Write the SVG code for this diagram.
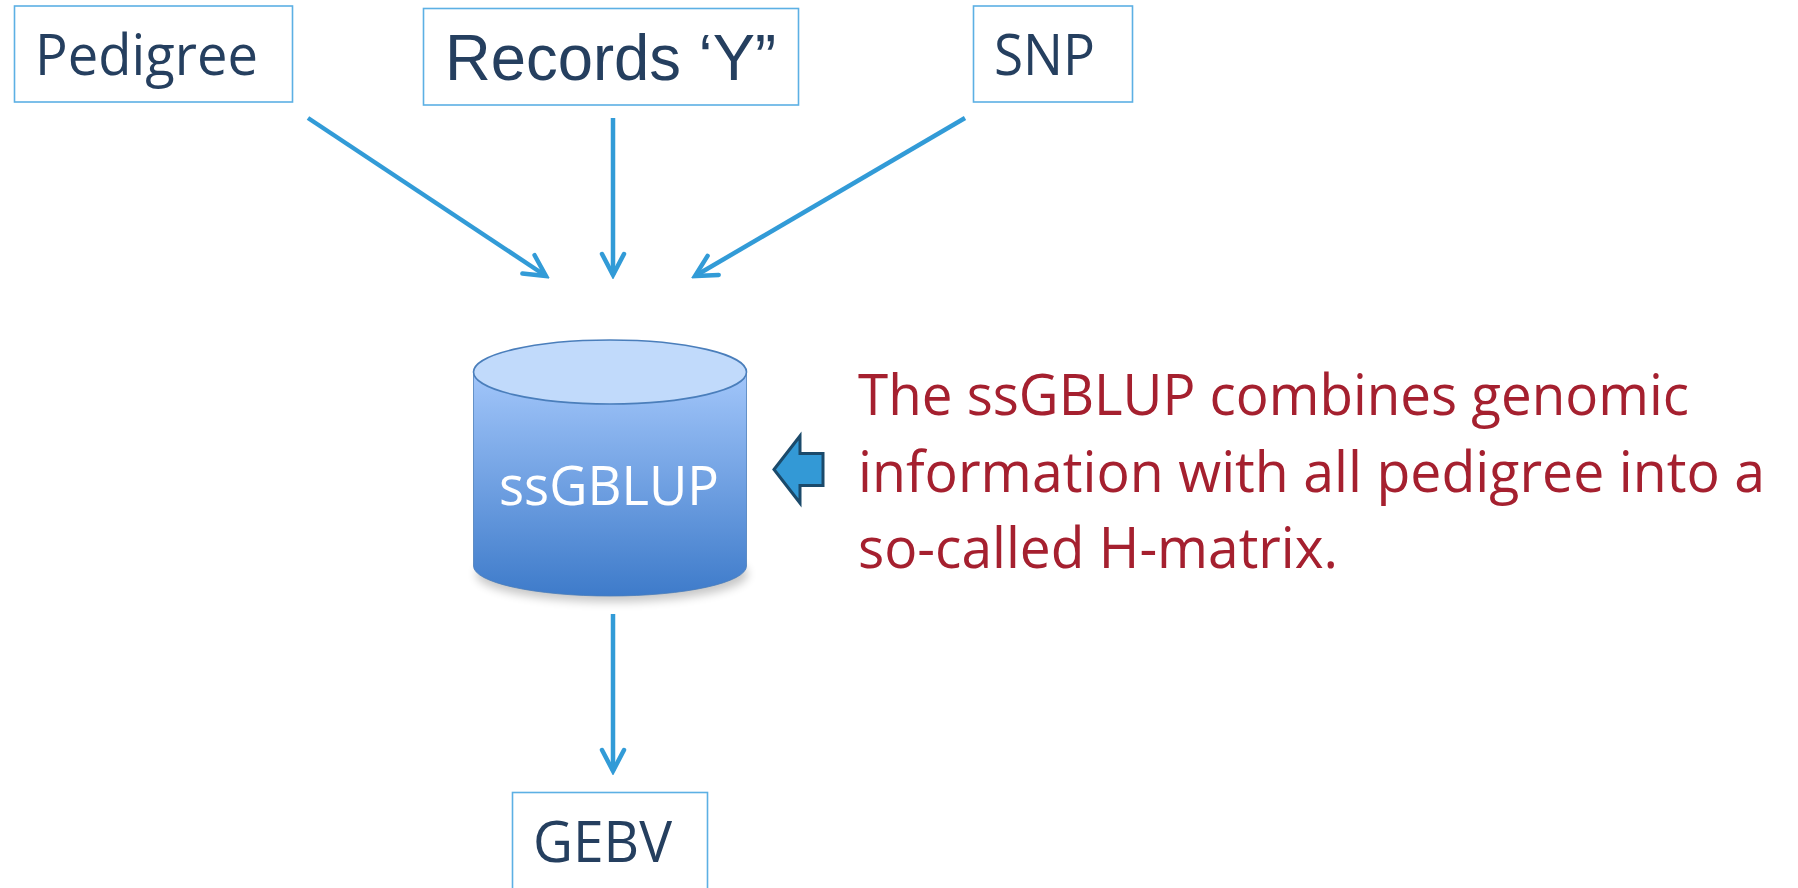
<svg xmlns="http://www.w3.org/2000/svg" width="1798" height="888" viewBox="0 0 1798 888">
<style>
.box{fill:#ffffff;stroke:#5cb0e4;stroke-width:1.6}
.lbl{font-family:"Open Sans","Noto Sans",sans-serif;font-size:56px;fill:#253f5f}
.conn{stroke:#329bd7;stroke-width:4.5;fill:none;stroke-linecap:butt}
.note{font-family:"Open Sans","Noto Sans",sans-serif;font-size:56px;fill:#a5202f}
</style>
<defs>
<marker id="ah" markerUnits="userSpaceOnUse" viewBox="-26 -14 30 28" refX="0" refY="0" markerWidth="30" markerHeight="28" orient="auto">
<path d="M -21 -11 L 0 0 L -21 11" fill="none" stroke="#329bd7" stroke-width="4.5" stroke-linecap="round" stroke-linejoin="miter"/>
</marker>
<linearGradient id="body" x1="0" y1="0" x2="0" y2="1">
<stop offset="0" stop-color="#a2c6fa"/>
<stop offset="1" stop-color="#3e7bca"/>
</linearGradient>
<filter id="sh" x="-20%" y="-50%" width="140%" height="200%">
<feGaussianBlur stdDeviation="5"/>
</filter>
</defs>
<rect width="1798" height="888" fill="#ffffff"/>
<g id="connectors">
<line class="conn" x1="308" y1="118" x2="546" y2="276" marker-end="url(#ah)"/>
<line class="conn" x1="613" y1="118" x2="613" y2="275" marker-end="url(#ah)"/>
<line class="conn" x1="965" y1="118" x2="695" y2="276" marker-end="url(#ah)"/>
<line class="conn" x1="613" y1="614" x2="613" y2="771" marker-end="url(#ah)"/>
</g>
<g id="node-pedigree">
<rect class="box" x="14.5" y="6" width="278" height="96"/>
<text class="lbl" x="35" y="75" textLength="223" lengthAdjust="spacingAndGlyphs">Pedigree</text>
</g>
<g id="node-records">
<rect class="box" x="423.5" y="8.5" width="375" height="96.5"/>
<text x="445" y="80" font-family="Liberation Sans, Arial, sans-serif" font-size="64" fill="#253f5f" textLength="331" lengthAdjust="spacingAndGlyphs">Records ‘Y”</text>
</g>
<g id="node-snp">
<rect class="box" x="973.5" y="6" width="159" height="96"/>
<text class="lbl" x="994" y="75" textLength="101" lengthAdjust="spacingAndGlyphs">SNP</text>
</g>
<g id="node-ssgblup">
<ellipse cx="612" cy="574" rx="136" ry="28" fill="#000000" opacity="0.22" filter="url(#sh)"/>
<path d="M 473.5 372 V 566 A 136.5 30 0 0 0 746.5 566 V 372 Z" fill="url(#body)" stroke="#4a7ebb" stroke-width="0.8"/>
<ellipse cx="610" cy="372" rx="136.5" ry="32" fill="#c1daFB" stroke="#4a7ebb" stroke-width="1.6"/>
<text x="499" y="505" font-family="Open Sans, Noto Sans, sans-serif" font-size="55" fill="#ffffff" textLength="220" lengthAdjust="spacingAndGlyphs">ssGBLUP</text>
</g>
<g id="node-gebv">
<rect class="box" x="512.5" y="792.5" width="195" height="110"/>
<text class="lbl" x="533" y="861.5" textLength="139" lengthAdjust="spacingAndGlyphs">GEBV</text>
</g>
<g id="node-callout">
<polygon points="774,469.5 800,436 800,453.5 823,453.5 823,485.5 800,485.5 800,503" fill="#3399d6" stroke="#1b4a6b" stroke-width="3" stroke-linejoin="miter"/>
</g>
<g id="node-note">
<text class="note" x="858" y="415" textLength="831" lengthAdjust="spacingAndGlyphs">The ssGBLUP combines genomic</text>
<text class="note" x="858" y="491.5" textLength="907" lengthAdjust="spacingAndGlyphs">information with all pedigree into a</text>
<text class="note" x="858" y="568" textLength="480" lengthAdjust="spacingAndGlyphs">so-called H-matrix.</text>
</g>
</svg>
